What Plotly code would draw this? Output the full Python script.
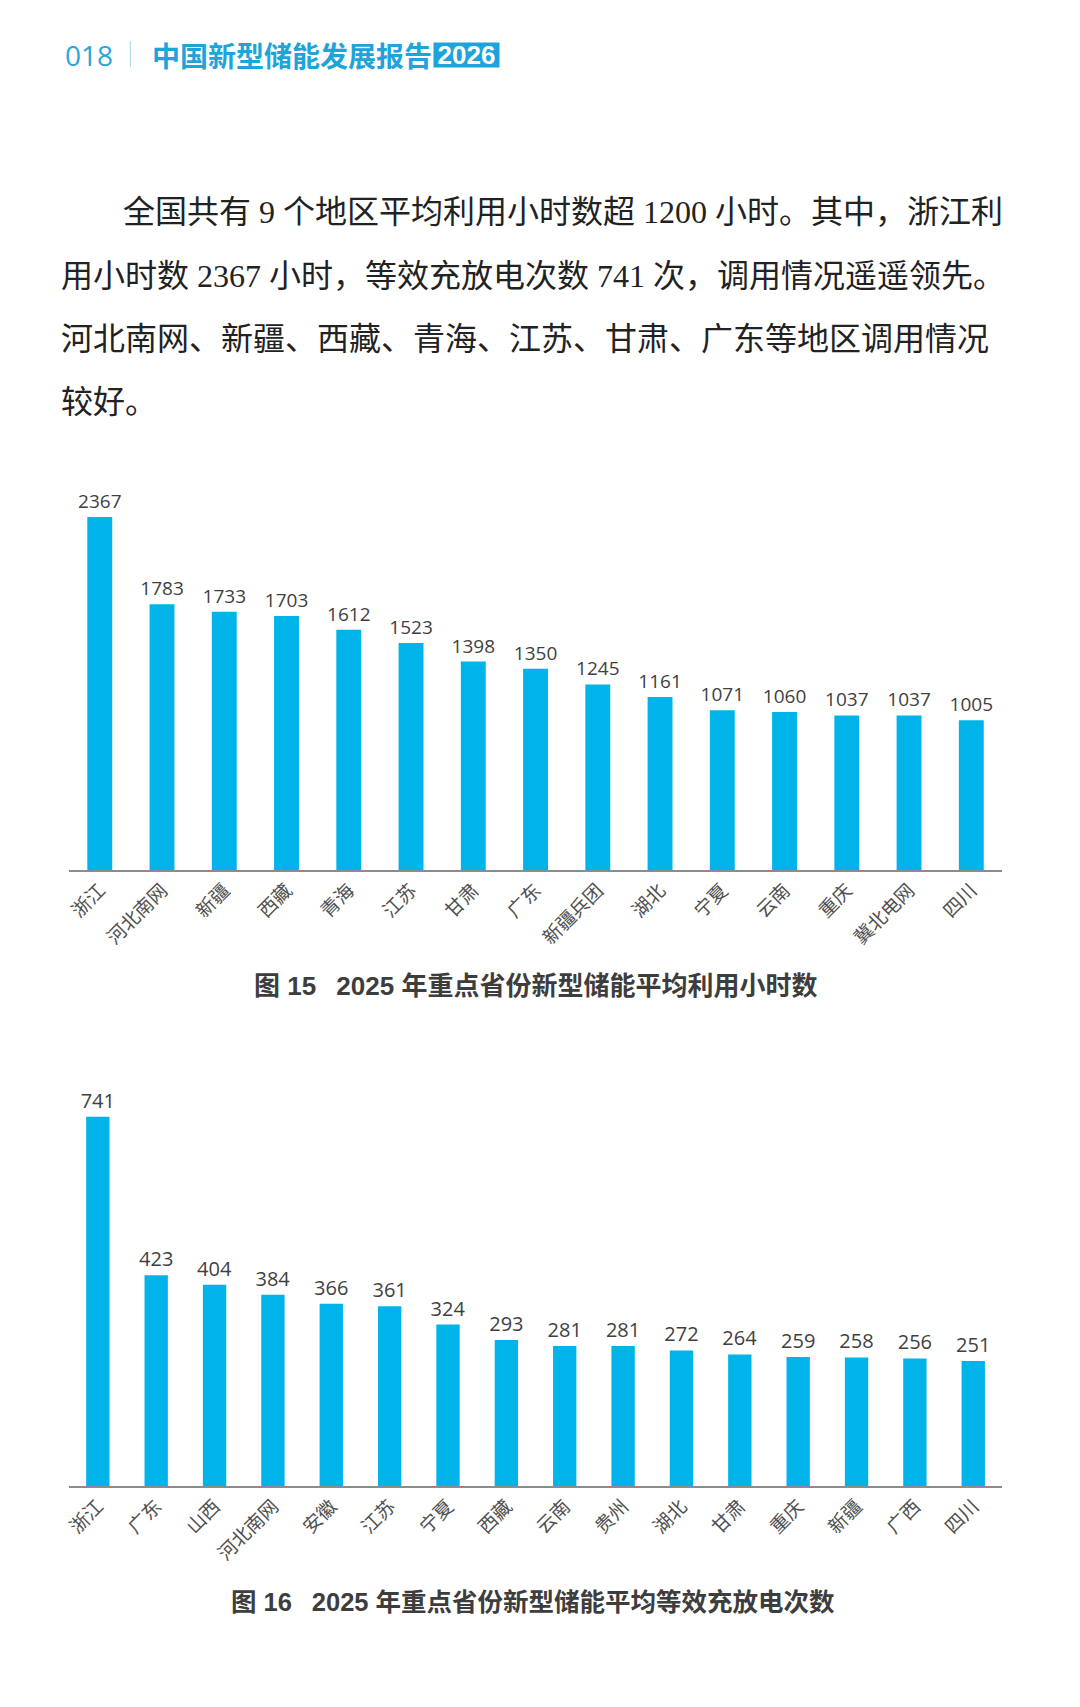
import plotly.graph_objects as go

# 图15 数据
regions_hours = ['浙江', '河北南网', '新疆', '西藏', '青海', '江苏', '甘肃', '广东',
                 '新疆兵团', '湖北', '宁夏', '云南', '重庆', '冀北电网', '四川']
hours = [2367, 1783, 1733, 1703, 1612, 1523, 1398, 1350, 1245, 1161, 1071, 1060, 1037, 1037, 1005]

# 图16 数据
regions_cycles = ['浙江', '广东', '山西', '河北南网', '安徽', '江苏', '宁夏', '西藏',
                  '云南', '贵州', '湖北', '甘肃', '重庆', '新疆', '广西', '四川']
cycles = [741, 423, 404, 384, 366, 361, 324, 293, 281, 281, 272, 264, 259, 258, 256, 251]

paragraph = [
    '全国共有 9 个地区平均利用小时数超 1200 小时。其中，浙江利',
    '用小时数 2367 小时，等效充放电次数 741 次，调用情况遥遥领先。',
    '河北南网、新疆、西藏、青海、江苏、甘肃、广东等地区调用情况',
    '较好。',
]
caption15 = '图 15\u2002 2025 年重点省份新型储能平均利用小时数'
caption16 = '图 16\u2002 2025 年重点省份新型储能平均等效充放电次数'

W, H = 1080, 1707
BAR = '#00b4ea'
CJK = 'Noto Sans CJK SC'


def px_x(x):
    return x / W


def px_y(y):
    return 1 - y / H


fig = go.Figure()

fig.add_trace(go.Bar(
    x=regions_hours, y=hours, xaxis='x', yaxis='y',
    marker=dict(color=BAR, line=dict(width=0)), width=0.4,
    text=hours, textposition='outside', cliponaxis=False, constraintext='none',
    textfont=dict(family='Open Sans', size=19, color='#3f3f3f'),
    hoverinfo='x+y'
))

fig.add_trace(go.Bar(
    x=regions_cycles, y=cycles, xaxis='x2', yaxis='y2',
    marker=dict(color=BAR, line=dict(width=0)), width=0.4,
    text=cycles, textposition='outside', cliponaxis=False, constraintext='none',
    textfont=dict(family='Open Sans', size=20, color='#3f3f3f'),
    hoverinfo='x+y'
))

axis_x = dict(
    showline=True, linecolor='#8c8c8c', linewidth=1.5,
    showgrid=False, ticks='', tickangle=-45,
    tickfont=dict(family=CJK, size=19, color='#505050'),
    fixedrange=True,
)
axis_y = dict(visible=False, showgrid=False, zeroline=False, fixedrange=True)

fig.update_layout(
    width=W, height=H,
    margin=dict(l=0, r=0, t=0, b=0),
    paper_bgcolor='white', plot_bgcolor='white',
    showlegend=False,
    xaxis=dict(axis_x, domain=[px_x(63), px_x(1002)], anchor='y'),
    yaxis=dict(axis_y, domain=[px_y(870), px_y(470)], range=[0, 2683], anchor='x'),
    xaxis2=dict(axis_x, domain=[px_x(63), px_x(1002)], anchor='y2'),
    yaxis2=dict(axis_y, domain=[px_y(1486), px_y(1060)], range=[0, 855], anchor='x2'),
)

# 页眉
fig.add_annotation(x=px_x(57), y=px_y(55), xref='paper', yref='paper',
                   text='018', showarrow=False, xanchor='left', yanchor='middle',
                   font=dict(family='Open Sans', size=28, color='#2ba6d9'))
fig.add_shape(type='line', xref='paper', yref='paper',
              x0=px_x(125), x1=px_x(125), y0=px_y(41), y1=px_y(67),
              line=dict(color='#9fd3ea', width=1))
fig.add_annotation(x=px_x(145), y=px_y(55), xref='paper', yref='paper',
                   text='<b>中国新型储能发展报告</b>', showarrow=False,
                   xanchor='left', yanchor='middle',
                   font=dict(family=CJK, size=28, color='#1ea3da'))
fig.add_annotation(x=px_x(429), y=px_y(55), xref='paper', yref='paper',
                   text='<b>2026</b>', showarrow=False,
                   xanchor='left', yanchor='middle', bgcolor='#1ea3da',
                   borderpad=0, width=65, height=24,
                   font=dict(family='Liberation Sans', size=26, color='white'))

# 正文
line_y = [212, 276, 339, 402]
for i, line in enumerate(paragraph):
    fig.add_annotation(x=px_x(116 if i == 0 else 53), y=px_y(line_y[i]),
                       xref='paper', yref='paper', text=line, showarrow=False,
                       xanchor='left', yanchor='middle',
                       font=dict(family='Liberation Serif, ' + CJK, size=32, color='#222222'))

# 图题
fig.add_annotation(x=px_x(532), y=px_y(986), xref='paper', yref='paper',
                   text='<b>' + caption15 + '</b>', showarrow=False,
                   xanchor='center', yanchor='middle',
                   font=dict(family='Liberation Sans, ' + CJK, size=26, color='#3d3d3d'))
fig.add_annotation(x=px_x(530), y=px_y(1602), xref='paper', yref='paper',
                   text='<b>' + caption16 + '</b>', showarrow=False,
                   xanchor='center', yanchor='middle',
                   font=dict(family='Liberation Sans, ' + CJK, size=25.5, color='#3d3d3d'))

fig.write_html("out.html", config={'displayModeBar': False},
               post_script="document.body.style.margin='0';document.body.style.overflow='hidden';")
